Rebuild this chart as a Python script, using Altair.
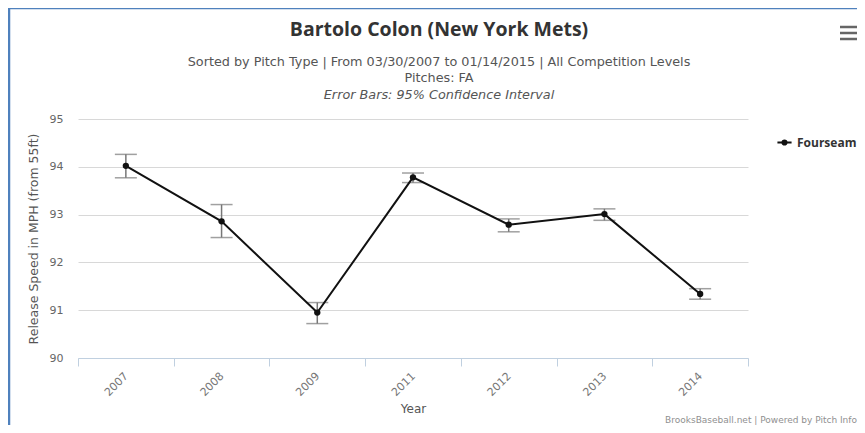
import altair as alt
import pandas as pd

years = ["2007", "2008", "2009", "2011", "2012", "2013", "2014"]
speed = [94.02, 92.86, 90.95, 93.78, 92.79, 93.01, 91.34]
ci_low = [93.77, 92.52, 90.72, 93.67, 92.64, 92.88, 91.23]
ci_high = [94.26, 93.21, 91.16, 93.87, 92.91, 93.12, 91.45]
series = ["Fourseam"] * len(years)

title_text = "Bartolo Colon (New York Mets)"
subtitle_lines = [
    "Sorted by Pitch Type | From 03/30/2007 to 01/14/2015 | All Competition Levels",
    "Pitches: FA",
]
error_note = "Error Bars: 95% Confidence Interval"
credit = "BrooksBaseball.net | Powered by Pitch Info"
y_title = "Release Speed in MPH (from 55ft)"
x_title = "Year"

df = pd.DataFrame({"Year": years, "Speed": speed, "Low": ci_low, "High": ci_high, "Pitch": series})

FONT = "Open Sans"
FONT2 = "DejaVu Sans"
W, H = 670, 239

x_enc = alt.X(
    "Year:N",
    sort=years,
    scale=alt.Scale(type="band", paddingInner=0, paddingOuter=0),
    axis=alt.Axis(
        title=x_title, labelAngle=-45, labelFontSize=11, labelColor="#777777", labelFont=FONT2,
        titleFont=FONT2, titleFontSize=12, titleColor="#555555", titleFontWeight="normal",
        titlePadding=6, domainColor="#C0D0E0", tickColor="#C0D0E0", tickSize=8,
        tickBand="extent", labelPadding=4, labelOffset=-4, grid=False,
    ),
)
y_scale = alt.Scale(domain=[90, 95], nice=False, zero=False)
y_axis = alt.Axis(
    title=y_title, values=[90, 91, 92, 93, 94, 95], labelFontSize=11, labelColor="#666666",
    labelFont=FONT2, titleFont=FONT2, titleFontSize=12.5, titleColor="#555555",
    titleFontWeight="normal", titlePadding=9, domain=False, ticks=False, labelPadding=15,
    grid=True, gridColor="#D8D8D8", gridWidth=1,
)

base = alt.Chart(df)

err_rule = base.mark_rule(color="#777777", strokeWidth=1.5).encode(
    x=x_enc, y=alt.Y("Low:Q", scale=y_scale, axis=y_axis), y2="High:Q"
)
cap_lo = base.mark_tick(color="#777777", size=22, thickness=1.5).encode(
    x=x_enc, y=alt.Y("Low:Q", scale=y_scale, axis=y_axis)
)
cap_hi = base.mark_tick(color="#777777", size=22, thickness=1.5).encode(
    x=x_enc, y=alt.Y("High:Q", scale=y_scale, axis=y_axis)
)

line = base.mark_line(strokeWidth=2).encode(
    x=x_enc,
    y=alt.Y("Speed:Q", scale=y_scale, axis=y_axis),
    color=alt.Color(
        "Pitch:N",
        scale=alt.Scale(domain=["Fourseam"], range=["#111111"]),
        legend=alt.Legend(
            title=None, orient="none", legendX=698, legendY=15,
            symbolType="M-1,0L1,0M-0.3,0A0.3,0.3 0 1,1 0.3,0A0.3,0.3 0 1,1 -0.3,0Z",
            symbolSize=200, symbolStrokeWidth=2, symbolFillColor="#111111",
            labelFont=FONT, labelFontSize=12, labelFontWeight="bold", labelColor="#333333",
            labelOffset=4,
        ),
    ),
)
pts = base.mark_circle(size=40, color="#111111", opacity=1).encode(
    x=x_enc, y=alt.Y("Speed:Q", scale=y_scale, axis=y_axis)
)


def txt(s, x, y, size, font=FONT, weight="normal", style="normal", color="#333333", align="center"):
    return alt.Chart(pd.DataFrame({"t": [s]})).mark_text(
        font=font, fontSize=size, fontWeight=weight, fontStyle=style, color=color, align=align,
        baseline="middle",
    ).encode(text="t:N", x=alt.value(x), y=alt.value(y))


cx = 361
texts = [
    txt(title_text, cx, -89, 19.5, weight="bold", color="#333333"),
    txt(subtitle_lines[0], cx, -57, 12.8, font=FONT2, color="#555555"),
    txt(subtitle_lines[1], cx, -41, 12.8, font=FONT2, color="#555555"),
    txt(error_note, cx, -24, 12.8, font=FONT2, style="italic", color="#555555"),
    txt(credit, 779, 301, 9, font=FONT2, color="#909090", align="right"),
]

BORDER = "#4F81BD"
border_left = alt.Chart(pd.DataFrame({"a": [0]})).mark_rule(color=BORDER, strokeWidth=2.5).encode(
    x=alt.value(-69), y=alt.value(-111), y2=alt.value(306)
)
border_top = alt.Chart(pd.DataFrame({"a": [0]})).mark_rule(color=BORDER, strokeWidth=1.5).encode(
    x=alt.value(-70), x2=alt.value(790), y=alt.value(-110.5)
)
menu = [
    alt.Chart(pd.DataFrame({"a": [0]})).mark_rule(color="#666666", strokeWidth=2.5).encode(
        x=alt.value(762), x2=alt.value(779), y=alt.value(yy)
    )
    for yy in (-92, -86, -80)
]

chart = alt.layer(
    *texts, border_left, border_top, *menu, err_rule, cap_lo, cap_hi, line, pts
).properties(
    width=W, height=H,
    autosize=alt.AutoSizeParams(type="none"),
    padding={"left": 70, "top": 111, "right": 109, "bottom": 67},
    background="white",
).configure_view(strokeWidth=0)

chart.save("out.html", embed_options={"renderer": "svg", "actions": False})
